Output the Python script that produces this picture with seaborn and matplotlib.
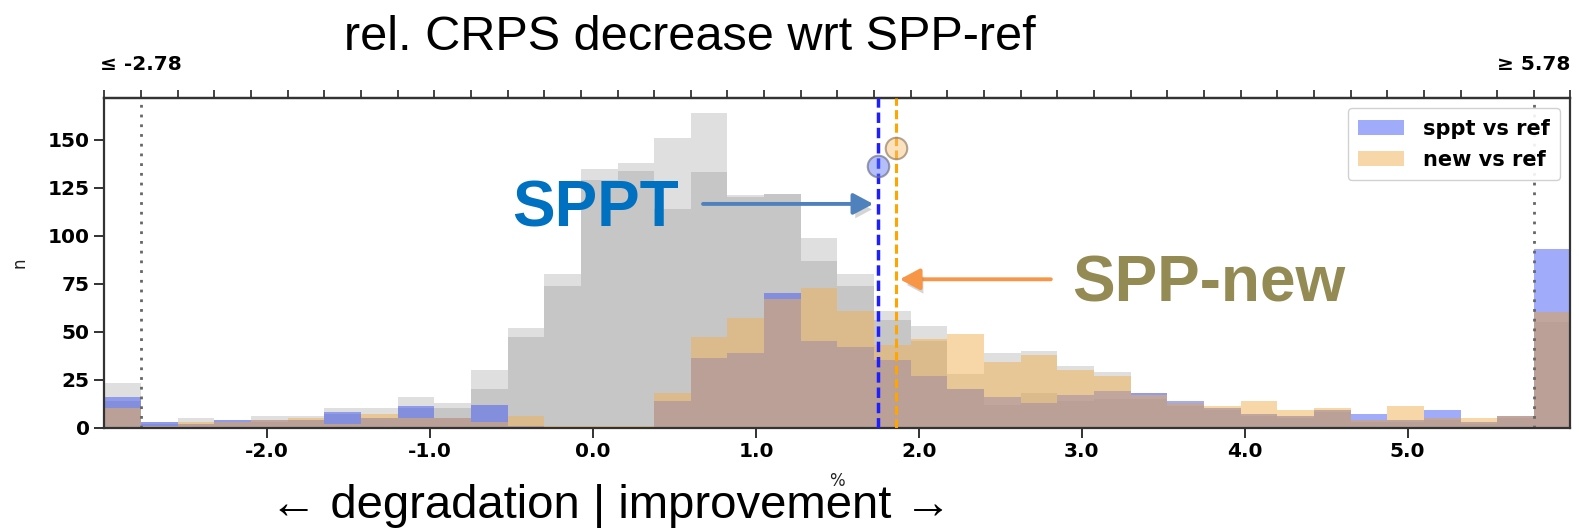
import numpy as np
import pandas as pd
import matplotlib
matplotlib.use("Agg")
import matplotlib.pyplot as plt
import matplotlib.patheffects as pe
import seaborn as sns

# ---------------- data ----------------
bin_lo, bin_hi, n_bins = -3.0, 6.0, 40
grey_a = [23, 3, 5, 4, 6, 6, 10, 10, 16, 13, 30, 52, 80, 135, 138, 151, 164, 121, 122, 99,
          80, 61, 53, 28, 39, 40, 32, 29, 18, 13, 10, 7, 6, 9, 4, 4, 5, 3, 6, 60]
grey_b = [14, 2, 2, 3, 3, 4, 7, 5, 10, 10, 20, 47, 74, 129, 134, 114, 133, 120, 122, 87,
          74, 56, 45, 20, 12, 18, 14, 15, 15, 11, 9, 6, 5, 8, 3, 3, 4, 2, 5, 55]
sppt_vs_ref = [16, 3, 2, 4, 4, 4, 8, 5, 11, 5, 12, 1, 0, 0, 0, 14, 36, 39, 70, 45,
               42, 35, 27, 20, 16, 13, 17, 19, 18, 14, 10, 7, 6, 9, 7, 4, 9, 3, 6, 93]
new_vs_ref = [10, 1, 3, 3, 4, 5, 2, 7, 5, 5, 3, 6, 1, 1, 1, 18, 47, 57, 67, 73,
              61, 43, 46, 49, 34, 38, 30, 27, 17, 13, 11, 14, 9, 10, 4, 11, 5, 5, 6, 60]
mean_sppt, mean_new = 1.748, 1.858
score_sppt, score_new = 136.4, 145.8
clip_lo, clip_hi = -2.775, 5.775
clip_labels = ["\u2264 -2.78", "\u2265 5.78"]
x_ticks = [-2, -1, 0, 1, 2, 3, 4, 5]
x_ticklabels = ["-2.0", "-1.0", "0.0", "1.0", "2.0", "3.0", "4.0", "5.0"]
y_ticks = [0, 25, 50, 75, 100, 125, 150]
series_names = ["sppt vs ref", "new vs ref"]

# ---------------- style ----------------
sns.set_style("ticks")
plt.rcParams["font.family"] = ["DejaVu Sans"]
plt.rcParams["text.color"] = "black"
ARIAL = ["Liberation Sans", "DejaVu Sans"]

edges = np.linspace(bin_lo, bin_hi, n_bins + 1)
centers = (edges[:-1] + edges[1:]) / 2
df = pd.DataFrame({"x": centers, "ga": grey_a, "gb": grey_b,
                   "sppt": sppt_vs_ref, "new": new_vs_ref})

fig = plt.figure(figsize=(15.79, 5.28), dpi=100)
ax = fig.add_axes([0.0661, 0.1903, 0.9285, 0.6247])

GREY = "#777777"
BLUE = "#425AF5"
ORANGE = "#F1B151"
hist_kw = dict(data=df, x="x", bins=n_bins, binrange=(bin_lo, bin_hi), linewidth=0, ax=ax)
sns.histplot(weights="ga", color=GREY, alpha=0.23, **hist_kw)
sns.histplot(weights="gb", color=GREY, alpha=0.23, **hist_kw)
sns.histplot(weights="sppt", color=BLUE, alpha=0.5, label=series_names[0], **hist_kw)
sns.histplot(weights="new", color=ORANGE, alpha=0.5, label=series_names[1], **hist_kw)

# clipping boundaries
for xv in (clip_lo, clip_hi):
    ax.axvline(xv, color="#666666", lw=2, linestyle=(0, (1, 2.5)), zorder=1)

# mean lines
ax.axvline(mean_sppt, color="#1E1EFF", lw=2.5, linestyle=(0, (3, 1.4)), zorder=4)
ax.axvline(mean_new, color="#FFA500", lw=2.2, linestyle=(0, (3, 1.4)), zorder=4)
ax.scatter([mean_sppt], [score_sppt], s=240, facecolor=(0.35, 0.45, 0.95, 0.45),
           edgecolor=(0.45, 0.45, 0.55, 0.7), linewidth=1.5, zorder=5)
ax.scatter([mean_new], [score_new], s=240, facecolor=(0.97, 0.75, 0.45, 0.45),
           edgecolor=(0.6, 0.5, 0.4, 0.7), linewidth=1.5, zorder=5)

ax.set_xlim(bin_lo, bin_hi)
ax.set_ylim(0, 172)
ax.set_xticks(x_ticks, labels=x_ticklabels)
ax.set_yticks(y_ticks)
for lab in ax.get_xticklabels() + ax.get_yticklabels():
    lab.set_fontweight("bold")
    lab.set_fontsize(14.5)
ax.tick_params(axis="both", direction="out", length=7, width=1.3, colors="#222222",
               labelcolor="black")
ax.set_xlabel("%", fontsize=12, labelpad=8, color="#222222")
ax.set_ylabel("n", fontsize=12, labelpad=14, color="#222222")
for sp in ax.spines.values():
    sp.set_visible(True)
    sp.set_linewidth(1.6)
    sp.set_color("#333333")

# top axis: bin edges
sec = ax.secondary_xaxis("top")
top_labels = [""] * len(edges)
top_labels[1] = clip_labels[0]
top_labels[-2] = clip_labels[1]
sec.set_xticks(edges, labels=top_labels)
sec.tick_params(direction="out", length=6, width=1.2, colors="#222222", pad=11,
                labelcolor="black")
for lab in sec.get_xticklabels():
    lab.set_fontweight("bold")
    lab.set_fontsize(14.5)
sec.spines["top"].set_linewidth(1.6)

leg = ax.legend(loc="upper right", prop=dict(weight="bold", size=15),
                handlelength=2.2, handleheight=0.75, handletextpad=0.9,
                labelspacing=0.55, borderpad=0.5, frameon=True, fancybox=True,
                edgecolor="#cccccc", framealpha=0.9)
for t in leg.get_texts():
    t.set_color("black")

# annotations
ax.text(-0.495, 104.7, "SPPT", fontsize=46, fontweight="bold", color="#0070C0",
        family=ARIAL, ha="left", va="baseline", zorder=6)
ax.text(2.943, 65.6, "SPP-new", fontsize=46, fontweight="bold", color="#948A54",
        family=ARIAL, ha="left", va="baseline", zorder=6)
shadow = [pe.SimplePatchShadow(offset=(2, -4), shadow_rgbFace="#777777", alpha=0.3), pe.Normal()]
a1 = ax.annotate("", xy=(1.72, 116.6), xytext=(0.675, 116.6),
                 arrowprops=dict(arrowstyle="-|>,head_length=0.6,head_width=0.32",
                                 color="#4F81BD", lw=2.8, shrinkA=0, shrinkB=0,
                                 mutation_scale=20), zorder=6)
a1.arrow_patch.set_path_effects(shadow)
a2 = ax.annotate("", xy=(1.883, 77.3), xytext=(2.81, 77.3),
                 arrowprops=dict(arrowstyle="-|>,head_length=0.6,head_width=0.32",
                                 color="#F79646", lw=2.8, shrinkA=0, shrinkB=0,
                                 mutation_scale=20), zorder=6)
a2.arrow_patch.set_path_effects(shadow)

fig.text(0.437, 0.905, "rel. CRPS decrease wrt SPP-ref", fontsize=35, family=ARIAL,
         color="black", ha="center", va="baseline")
fig.text(0.387, 0.019, "\u2190 degradation | improvement \u2192", fontsize=34,
         family=ARIAL, color="black", ha="center", va="baseline", zorder=10)

fig.savefig("out.png", dpi=100)
